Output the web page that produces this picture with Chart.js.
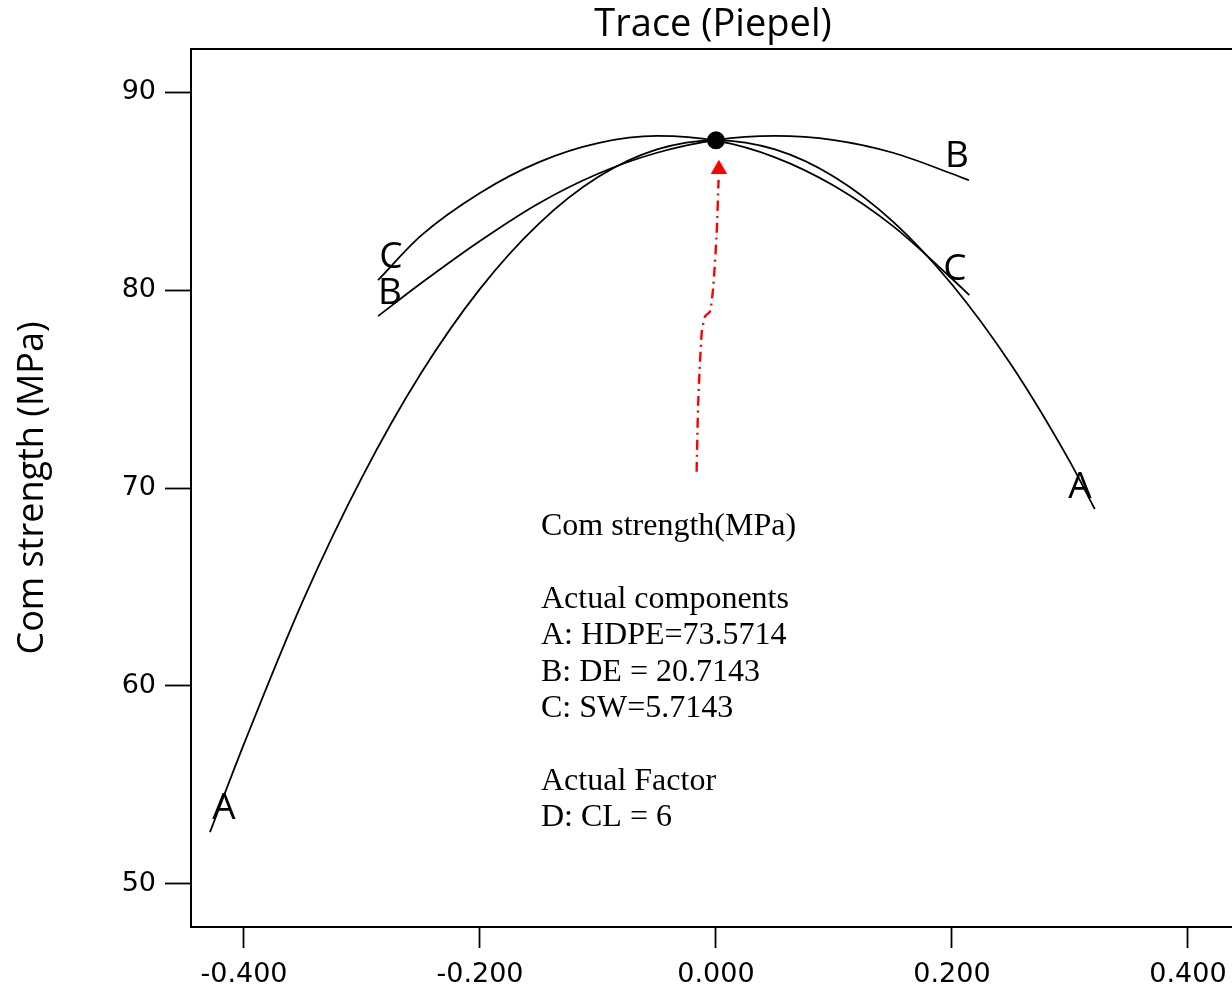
<!DOCTYPE html>
<html>
<head>
<meta charset="utf-8">
<script src="https://cdn.jsdelivr.net/npm/chart.js@4.4.1/dist/chart.umd.min.js"></script>
<style>
html,body{margin:0;padding:0;background:#fff;overflow:hidden;}
canvas{display:block;}
</style>
</head>
<body>
<canvas id="c" width="1232" height="990"></canvas>
<script>
// ---- data ----
const xTicks = [-0.4, -0.2, 0, 0.2, 0.4];
const yTicks = [50, 60, 70, 80, 90];

const xA = [-0.4288,-0.40,-0.35,-0.30,-0.25,-0.20,-0.15,-0.10,-0.05,0,0.05,0.10,0.15,0.20,0.25,0.30,0.321];
const yA = [52.6,57.06,64.31,70.54,75.80,80.07,83.37,85.72,87.12,87.58,87.12,85.74,83.47,80.29,76.24,71.32,68.94];

const xB = [-0.2864,-0.25,-0.20,-0.15,-0.10,-0.05,0,0.05,0.10,0.15,0.20,0.2144];
const yB = [78.69,80.35,82.49,84.40,85.89,86.95,87.59,87.80,87.59,86.95,85.89,85.56];

const xC = [-0.2864,-0.25,-0.20,-0.15,-0.10,-0.05,0,0.05,0.10,0.15,0.20,0.2147];
const yC = [80.51,82.76,84.92,86.48,87.44,87.80,87.56,86.72,85.28,83.24,80.58,79.75];

const arrowX = [-0.0164,-0.0150,-0.0121,-0.0093,-0.0051,-0.0023,0.0006,0.0022];
const arrowY = [70.82,74.45,77.84,78.67,78.92,80.18,82.90,85.58];
const arrowTip = [{x:0.0025, y:86.11}];

const optimum = [{x:0, y:87.58}];

const curveLabels = [
  {t:'A', x:-0.4169, y:53.81}, {t:'A', x:0.3085, y:70.05},
  {t:'B', x:-0.2763, y:79.86}, {t:'B', x:0.2042, y:86.75},
  {t:'C', x:-0.2754, y:81.64}, {t:'C', x:0.2025, y:81.03}
];

const infoLines = ['Com strength(MPa)', '', 'Actual components', 'A: HDPE=73.5714',
  'B: DE = 20.7143', 'C: SW=5.7143', '', 'Actual Factor', 'D: CL = 6'];
const infoAnchor = {x:-0.1483, y:68.05};

const titleText = 'Trace (Piepel)';
const yTitleText = 'Com strength (MPa)';

const pts = (xs, ys) => xs.map((x, i) => ({x, y: ys[i]}));

const lineStyle = {borderColor:'#000', borderWidth:1.8, pointRadius:0, cubicInterpolationMode:'monotone', fill:false};

const overlay = {
  id:'overlay',
  afterDraw(chart){
    const ctx = chart.ctx, a = chart.chartArea, sx = chart.scales.x, sy = chart.scales.y;
    ctx.save();
    // frame
    ctx.strokeStyle = '#000'; ctx.lineWidth = 2;
    ctx.beginPath();
    ctx.moveTo(1240, a.top); ctx.lineTo(a.left, a.top); ctx.lineTo(a.left, a.bottom); ctx.lineTo(1240, a.bottom);
    ctx.stroke();
    // title
    ctx.fillStyle = '#000';
    ctx.textAlign = 'center'; ctx.textBaseline = 'middle';
    ctx.font = "38px 'Open Sans'";
    ctx.fillText(titleText, 713, 25);
    // y title
    ctx.save();
    ctx.translate(33, 488); ctx.rotate(-Math.PI/2);
    ctx.font = "36px 'Open Sans'";
    ctx.fillText(yTitleText, 0, 0);
    ctx.restore();
    // curve labels
    ctx.font = "37px 'Open Sans'";
    curveLabels.forEach(l => ctx.fillText(l.t, sx.getPixelForValue(l.x), sy.getPixelForValue(l.y)));
    // info text
    ctx.font = "32px 'Liberation Serif'";
    ctx.textAlign = 'left';
    const x0 = sx.getPixelForValue(infoAnchor.x), y0 = sy.getPixelForValue(infoAnchor.y);
    infoLines.forEach((s, i) => { if (s) ctx.fillText(s, x0, y0 + i * 36.4); });
    ctx.restore();
  }
};

new Chart(document.getElementById('c'), {
  type: 'line',
  data: {
    datasets: [
      Object.assign({data: pts(xA, yA)}, lineStyle),
      Object.assign({data: pts(xB, yB)}, lineStyle),
      Object.assign({data: pts(xC, yC)}, lineStyle),
      {data: pts(arrowX, arrowY), borderColor:'#ff0000', borderWidth:2.4, borderDash:[10,5,2,5], pointRadius:0, tension:0.2, fill:false},
      {data: arrowTip, showLine:false, pointStyle:'triangle', pointRadius:9.5, backgroundColor:'#ff0000', borderColor:'#ff0000', borderWidth:0},
      {data: optimum, showLine:false, pointStyle:'circle', pointRadius:9, backgroundColor:'#000', borderColor:'#000', borderWidth:0}
    ]
  },
  options: {
    responsive:false, animation:false, devicePixelRatio:1,
    layout:{autoPadding:false, padding:{top:49, left:0, right:0, bottom:0}},
    plugins:{legend:{display:false}, tooltip:{enabled:false}, title:{display:false}},
    scales:{
      x:{
        type:'linear', min:-0.4449, max:0.4373,
        afterBuildTicks: s => { s.ticks = xTicks.map(v => ({value:v})); },
        afterFit: s => { s.height = 63; s.paddingLeft = 0; s.paddingRight = 0; },
        grid:{display:true, drawOnChartArea:false, drawTicks:true, tickLength:21, tickColor:'#000', tickWidth:1.8},
        border:{display:false},
        ticks:{color:'#000', font:{family:'DejaVu Sans', size:27}, padding:11, maxRotation:0, autoSkip:false,
          callback: v => v.toFixed(3)}
      },
      y:{
        type:'linear', min:47.804, max:92.196,
        afterBuildTicks: s => { s.ticks = yTicks.map(v => ({value:v})); },
        afterFit: s => { s.width = 191; s.paddingTop = 0; s.paddingBottom = 0; },
        grid:{display:true, drawOnChartArea:false, drawTicks:true, tickLength:26, tickColor:'#000', tickWidth:1.8},
        border:{display:false},
        ticks:{color:'#000', font:{family:'DejaVu Sans', size:27}, padding:9, autoSkip:false,
          callback: v => String(v)}
      }
    }
  },
  plugins:[overlay]
});
</script>
</body>
</html>
